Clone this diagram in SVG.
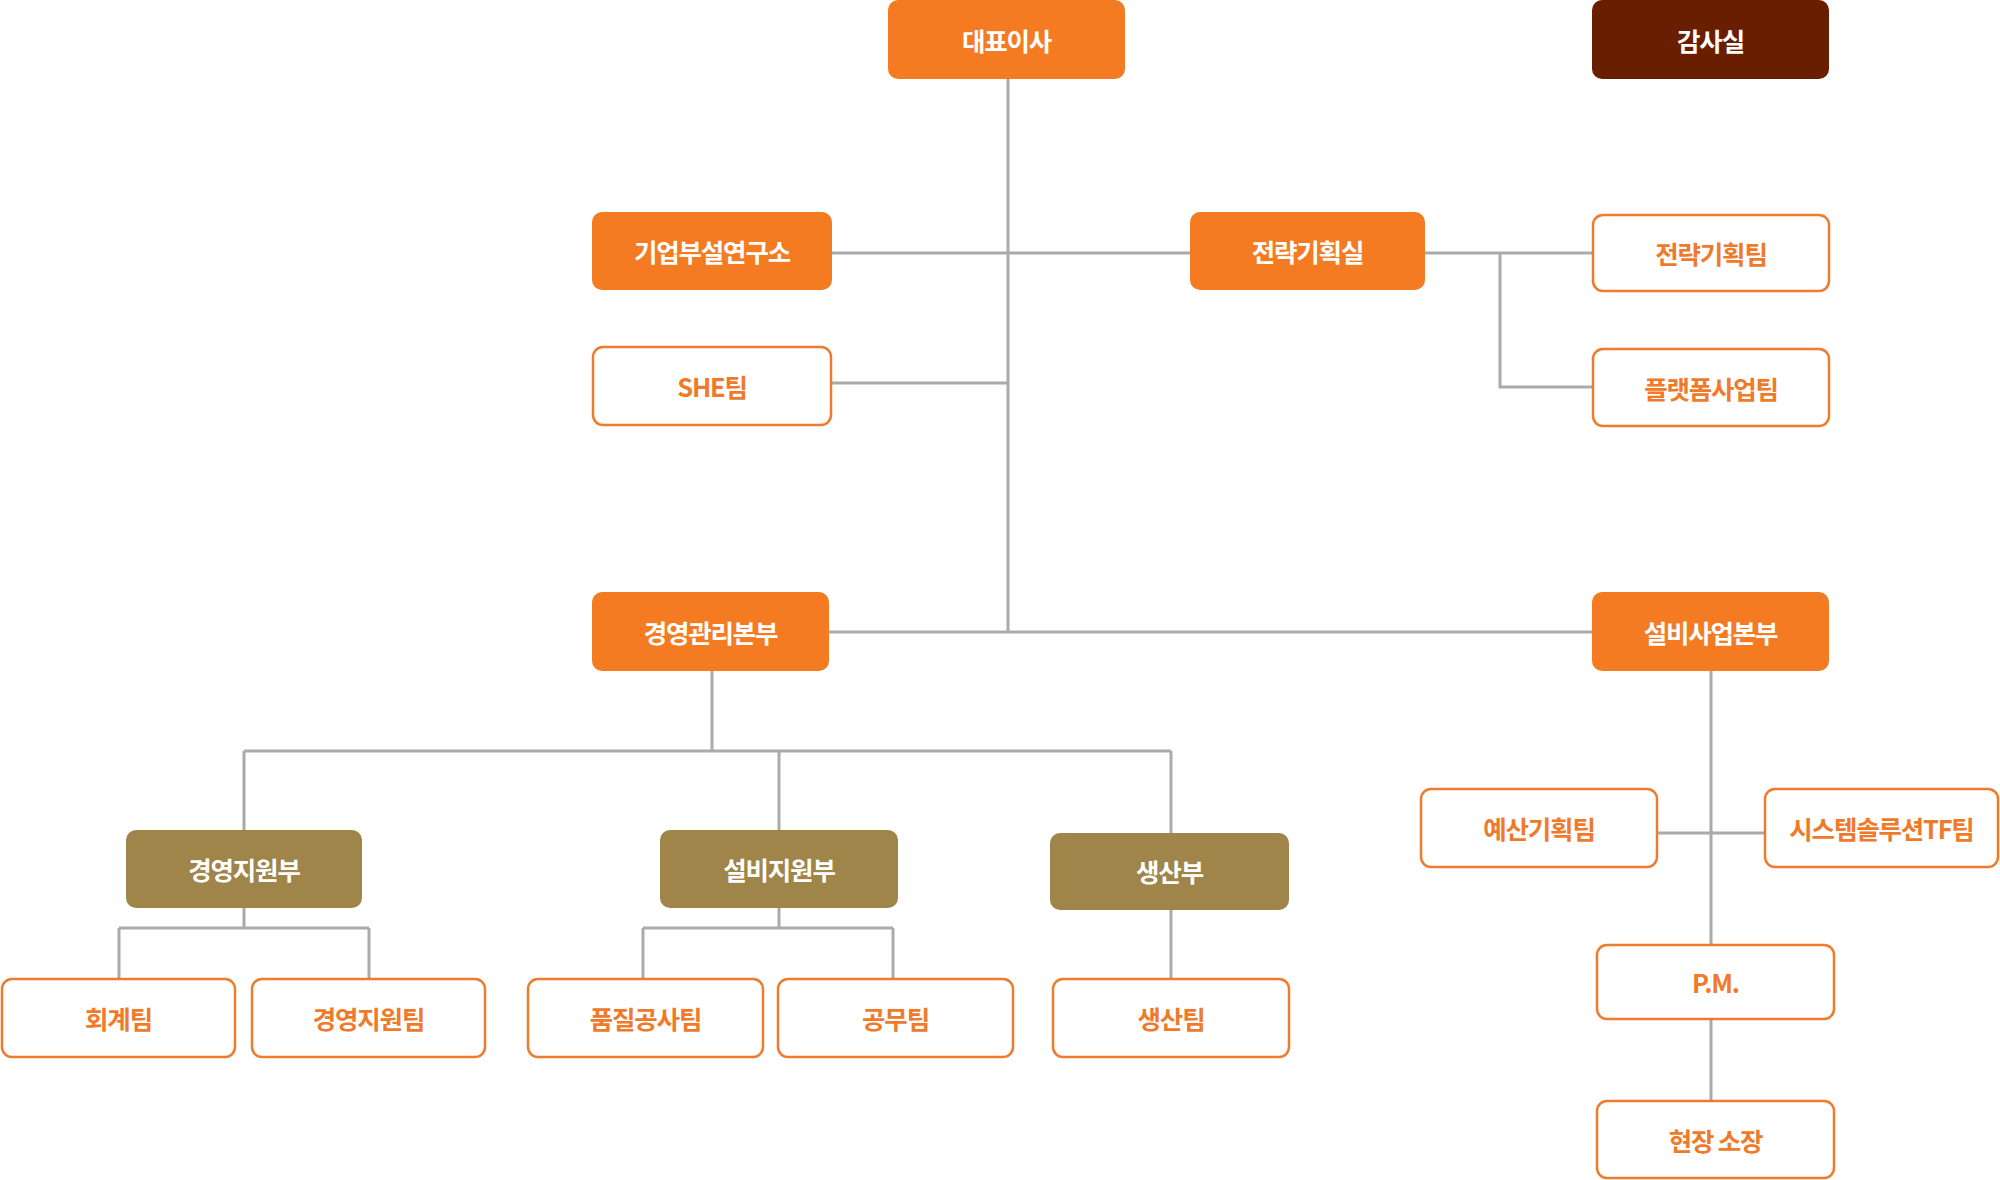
<svg xmlns="http://www.w3.org/2000/svg" width="2000" height="1180" viewBox="0 0 2000 1180">
<style>
  .fill-o{fill:#F47B22}
  .fill-b{fill:#9F8549}
  .fill-d{fill:#6A1E00}
  .out{fill:#FFFFFF;stroke:#EF7B2D;stroke-width:2.5}
  .tw{fill:#FFFFFF}
  .to{fill:#EE7A2A}
  text{font-family:"Noto Sans CJK KR","Noto Sans",sans-serif;font-weight:700;font-size:25.5px;letter-spacing:-1.2px;text-anchor:middle;dominant-baseline:central}
  .conn{fill:none;stroke:#AAAAAA;stroke-width:3}
</style>
<rect width="2000" height="1180" fill="#FFFFFF"/>
<g id="connectors" class="conn">
  <path d="M1008 79 V632"/>
  <path d="M832 253 H1190"/>
  <path d="M832 383 H1008"/>
  <path d="M1425 253 H1592"/>
  <path d="M1500 253 V387 H1593"/>
  <path d="M829 632 H1592"/>
  <path d="M712 671 V751"/>
  <path d="M244 751 H1171"/>
  <path d="M244 751 V830"/>
  <path d="M779 751 V830"/>
  <path d="M1171 751 V833"/>
  <path d="M244 908 V928"/>
  <path d="M119 928 H369"/>
  <path d="M119 928 V979"/>
  <path d="M369 928 V979"/>
  <path d="M779 908 V928"/>
  <path d="M643 928 H893"/>
  <path d="M643 928 V979"/>
  <path d="M893 928 V979"/>
  <path d="M1171 910 V979"/>
  <path d="M1711 671 V945"/>
  <path d="M1657 833 H1765"/>
  <path d="M1711 1019 V1101"/>
</g>
<g id="ceo"><rect class="fill-o" x="888" y="0" width="237" height="79" rx="10"/><text class="tw" x="1006.5" y="39">대표이사</text></g>
<g id="audit"><rect class="fill-d" x="1592" y="0" width="237" height="79" rx="10"/><text class="tw" x="1710.5" y="39">감사실</text></g>
<g id="lab"><rect class="fill-o" x="592" y="212" width="240" height="78" rx="10"/><text class="tw" x="712" y="250">기업부설연구소</text></g>
<g id="strategy"><rect class="fill-o" x="1190" y="212" width="235" height="78" rx="10"/><text class="tw" x="1307.5" y="250">전략기획실</text></g>
<g id="she"><rect class="out" x="593" y="347" width="238" height="78" rx="10"/><text class="to" x="712" y="385">SHE팀</text></g>
<g id="strategy-team"><rect class="out" x="1593" y="215" width="236" height="76" rx="10"/><text class="to" x="1711" y="252">전략기획팀</text></g>
<g id="platform-team"><rect class="out" x="1593" y="349" width="236" height="77" rx="10"/><text class="to" x="1711" y="387">플랫폼사업팀</text></g>
<g id="mgmt-hq"><rect class="fill-o" x="592" y="592" width="237" height="79" rx="10"/><text class="tw" x="710.5" y="631">경영관리본부</text></g>
<g id="facility-hq"><rect class="fill-o" x="1592" y="592" width="237" height="79" rx="10"/><text class="tw" x="1710.5" y="631">설비사업본부</text></g>
<g id="mgmt-support"><rect class="fill-b" x="126" y="830" width="236" height="78" rx="10"/><text class="tw" x="244" y="868">경영지원부</text></g>
<g id="facility-support"><rect class="fill-b" x="660" y="830" width="238" height="78" rx="10"/><text class="tw" x="779" y="868">설비지원부</text></g>
<g id="production"><rect class="fill-b" x="1050" y="833" width="239" height="77" rx="10"/><text class="tw" x="1169.5" y="870">생산부</text></g>
<g id="budget-team"><rect class="out" x="1421" y="789" width="236" height="78" rx="10"/><text class="to" x="1539" y="827">예산기획팀</text></g>
<g id="system-team"><rect class="out" x="1765" y="789" width="233" height="78" rx="10"/><text class="to" x="1881.5" y="827">시스템솔루션TF팀</text></g>
<g id="pm"><rect class="out" x="1597" y="945" width="237" height="74" rx="10"/><text class="to" x="1715.5" y="981">P.M.</text></g>
<g id="site-manager"><rect class="out" x="1597" y="1101" width="237" height="77" rx="10"/><text class="to" x="1715.5" y="1139">현장 소장</text></g>
<g id="accounting-team"><rect class="out" x="2" y="979" width="233" height="78" rx="10"/><text class="to" x="118.5" y="1017">회계팀</text></g>
<g id="mgmt-support-team"><rect class="out" x="252" y="979" width="233" height="78" rx="10"/><text class="to" x="368.5" y="1017">경영지원팀</text></g>
<g id="quality-team"><rect class="out" x="528" y="979" width="235" height="78" rx="10"/><text class="to" x="645.5" y="1017">품질공사팀</text></g>
<g id="admin-team"><rect class="out" x="778" y="979" width="235" height="78" rx="10"/><text class="to" x="895.5" y="1017">공무팀</text></g>
<g id="production-team"><rect class="out" x="1053" y="979" width="236" height="78" rx="10"/><text class="to" x="1171" y="1017">생산팀</text></g>
</svg>
